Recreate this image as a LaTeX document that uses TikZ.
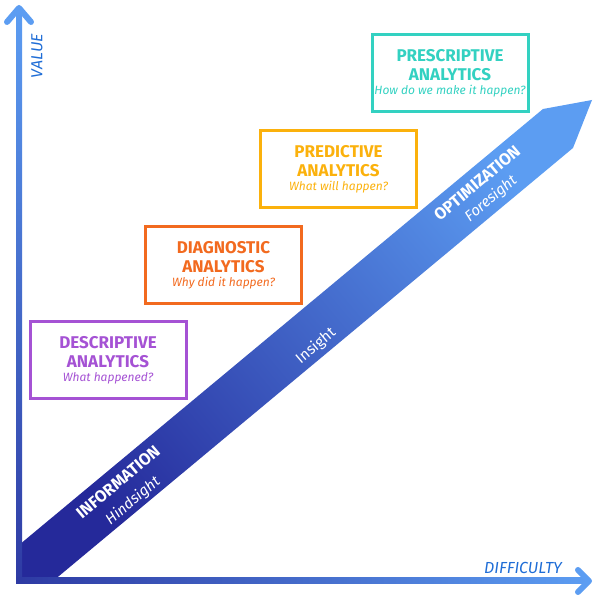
\documentclass[tikz,border=0pt]{standalone}
\usepackage{fontspec}
\setmainfont{Fira Sans}
\usepackage{tikz}

\definecolor{bandDark}{HTML}{25299A}
\definecolor{bandLight}{HTML}{5C9DF2}
\definecolor{axisDark}{HTML}{2E3AA3}
\definecolor{axisLight}{HTML}{5C9DF2}
\definecolor{labelBlue}{HTML}{1F6DD6}
\definecolor{descColor}{HTML}{A552D4}
\definecolor{diagColor}{HTML}{F26A1F}
\definecolor{predColor}{HTML}{FBB10C}
\definecolor{prescColor}{HTML}{33D1C1}

\newcommand{\titlefont}{\fontsize{17}{19}\selectfont\bfseries}
\newcommand{\subfont}{\fontsize{12}{12}\selectfont\mdseries\itshape}

\tikzset{
    stagebox/.style = {draw=#1, text=#1, line width=3pt, minimum width=156pt,
        minimum height=77pt, align=center, font=\titlefont, inner sep=0pt},
    bandtext/.style = {text=white, rotate=40, inner sep=0pt},
    chevron/.style = {draw=axisLight, line width=6pt, line cap=round, line join=round}
}

\begin{document}
\begin{tikzpicture}[%
        x = 1pt, y = 1pt
    ]
      \useasboundingbox (0,0) rectangle (600,600);
      % the diagonal band
      \shade [bottom color=bandDark, top color=bandLight, shading angle=-50]
        (19,55) -- (543,491) -- (592,500) -- (573,452) -- (53,19) -- (19,19) -- cycle;
      % axes
      \shade [bottom color=axisDark, top color=axisLight] (16,16) rectangle (22,592);
      \shade [left color=axisDark, right color=axisLight] (16,16) rectangle (589,22);
      \coordinate (ytip) at (19,592);
      \coordinate (xtip) at (589,19);
      \draw [chevron] (7,578) -- (ytip) -- (31,578);
      \draw [chevron] (578,30) -- (xtip) -- (578,8);
      \node (value) at (37,544) [rotate=90, text=labelBlue, font=\fontsize{16}{16}\selectfont\itshape] {VALUE};
      \node (difficulty) at (523,32) [text=labelBlue, font=\fontsize{16}{16}\selectfont\itshape] {DIFFICULTY};
      % labels on the band
      \node (information) at (118,118) [bandtext, font=\fontsize{16.5}{16.5}\selectfont\bfseries] {INFORMATION};
      \node (hindsight) at (133,99) [bandtext, font=\fontsize{15}{15}\selectfont\itshape] {Hindsight};
      \node (insight) at (316,254) [bandtext, font=\fontsize{15}{15}\selectfont] {Insight};
      \node (optimization) at (477,417) [bandtext, font=\fontsize{16.5}{16.5}\selectfont\bfseries] {OPTIMIZATION};
      \node (foresight) at (491,401) [bandtext, font=\fontsize{15}{15}\selectfont\itshape] {Foresight};
      % the four stages
      \node (desc) at (108,239.5) [stagebox=descColor] {DESCRIPTIVE\\ANALYTICS\\[-5pt]{\subfont What happened?}};
      \node (diag) at (223.5,334.5) [stagebox=diagColor] {DIAGNOSTIC\\ANALYTICS\\[-5pt]{\subfont Why did it happen?}};
      \node (pred) at (338.5,430.5) [stagebox=predColor] {PREDICTIVE\\ANALYTICS\\[-5pt]{\subfont What will happen?}};
      \node (presc) at (450,526.5) [stagebox=prescColor] {PRESCRIPTIVE\\ANALYTICS\\[-5pt]{\subfont How do we make it happen?}};
    \end{tikzpicture}
\end{document}
